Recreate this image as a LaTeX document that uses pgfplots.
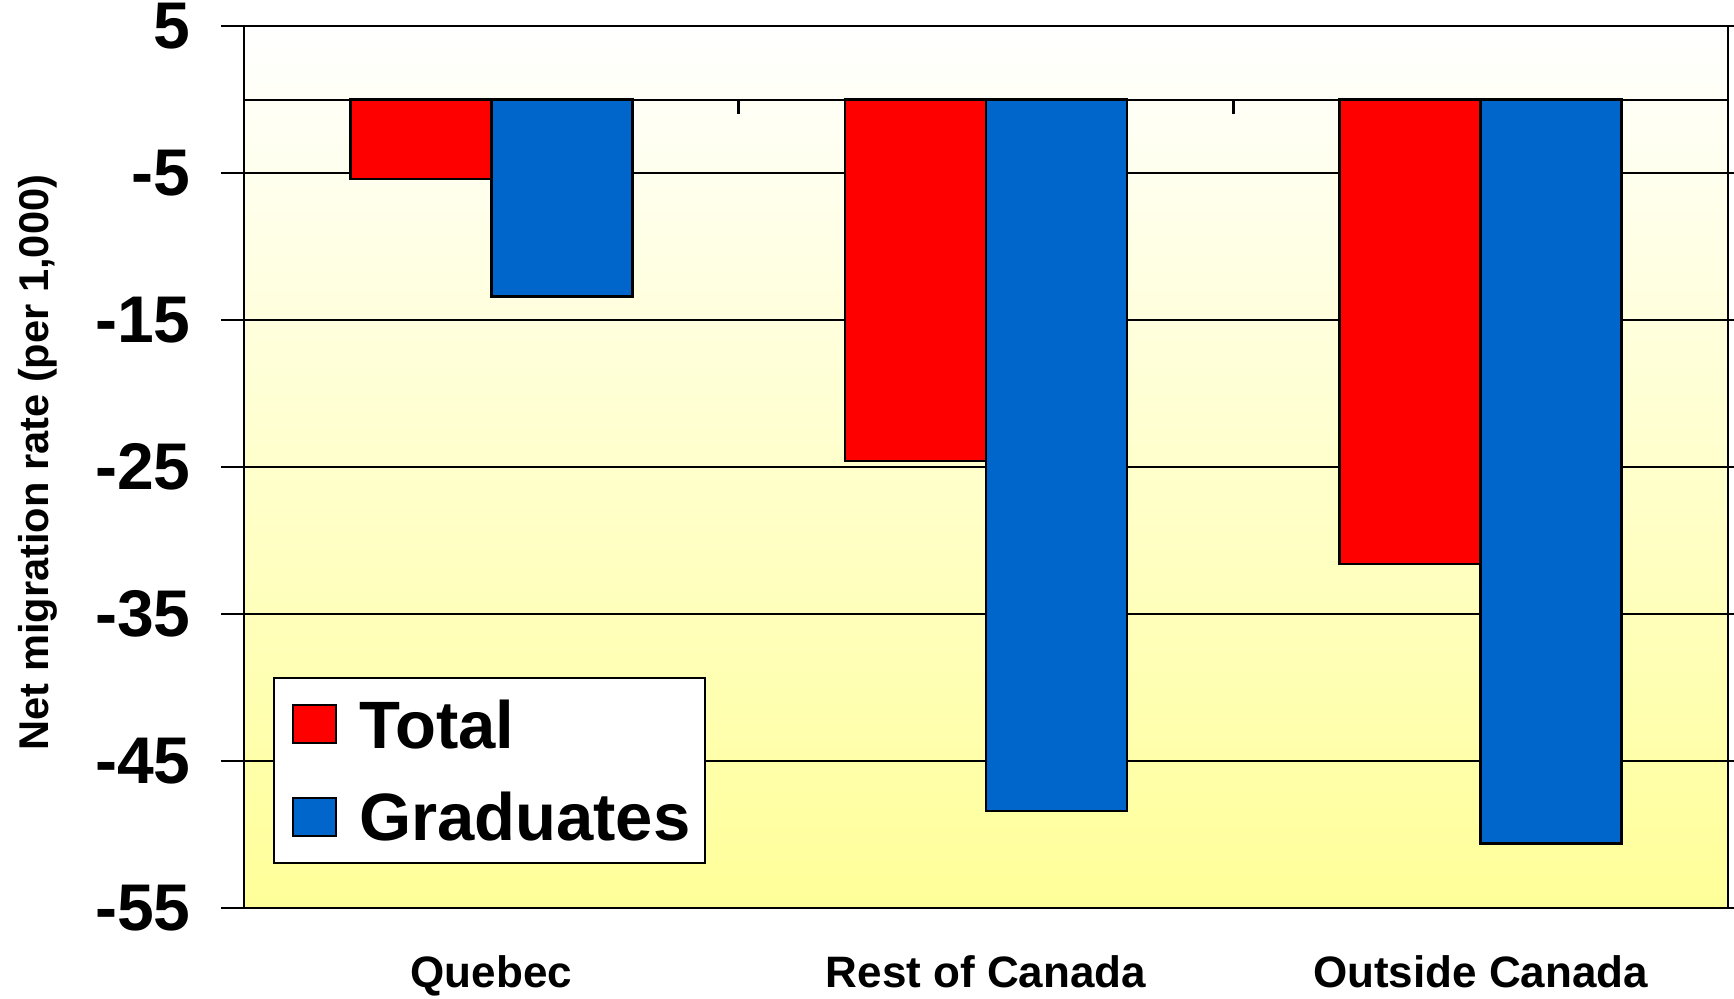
\documentclass[border=0pt]{standalone}
\usepackage{fontspec}
\setmainfont{Liberation Sans}
\usepackage{pgfplots}
\pgfplotsset{compat=1.18}
\definecolor{barred}{RGB}{255,0,0}
\definecolor{barblue}{RGB}{0,102,204}
\definecolor{bgyellow}{RGB}{255,255,153}
\begin{document}
\begin{tikzpicture}
\begin{axis}[
  at={(0,0)}, anchor=south west,
  scale only axis,
  width=742pt, height=441pt,
  xmin=-0.5, xmax=2.5,
  ymin=-55, ymax=5,
  xtick={0,1,2},
  xticklabels={Quebec,Rest of Canada,Outside Canada},
  x tick style={draw=none},
  xticklabel style={anchor=base, yshift=-28pt, font=\fontsize{22}{26}\selectfont\bfseries},
  ytick={5,-5,-15,-25,-35,-45,-55},
  yticklabels={5,-5,-15,-25,-35,-45,-55},
  y tick style={line width=1pt, black},
  tick align=outside,
  major tick length=11.5pt,
  yticklabel style={anchor=east, inner sep=0pt, xshift=-15pt, font=\fontsize{33}{38}\selectfont\bfseries},
  ymajorgrids,
  grid style={line width=1pt, black},
  axis line style={line width=1pt, black},
  axis background/.style={shade, top color=white, bottom color=bgyellow},
  ylabel={Net migration rate (per 1,000)},
  ylabel style={at={(axis description cs:-0.1392,0.505)}, anchor=center, font=\fontsize{20.8}{24}\selectfont\bfseries},
  ybar=0pt,
  bar width=70.5pt,
  legend style={at={(0.0196,0.05)}, anchor=south west, draw=black, line width=1pt, fill=white,
    font=\fontsize{33.5}{38}\selectfont\bfseries, inner xsep=5pt, inner ysep=9pt, row sep=18pt,
    nodes={text depth=0pt}},
  legend cell align=left,
  legend image code/.code={\draw[#1, line width=1pt] (4.4pt,-9.5pt) rectangle (25.9pt,9.5pt); \path[draw=none, fill=none] (0pt,0pt) -- (35.5pt,0pt);},
]
\addplot[fill=barred, draw=black, line width=1.2pt] coordinates {(0,-5.4) (1,-24.6) (2,-31.6)};
\addplot[fill=barblue, draw=black, line width=1.2pt] coordinates {(0,-13.4) (1,-48.4) (2,-50.6)};
\legend{Total,Graduates}
\draw[black, line width=1pt] (axis cs:-0.5,0) -- (axis cs:2.5,0);
\draw[black, line width=1.5pt] ([yshift=-7pt]axis cs:0.5,0) -- (axis cs:0.5,0);
\draw[black, line width=1.5pt] ([yshift=-7pt]axis cs:1.5,0) -- (axis cs:1.5,0);
\end{axis}
\pgfresetboundingbox
\path[use as bounding box] (-122pt,-45pt) rectangle (745pt,454pt);
\end{tikzpicture}
\end{document}
